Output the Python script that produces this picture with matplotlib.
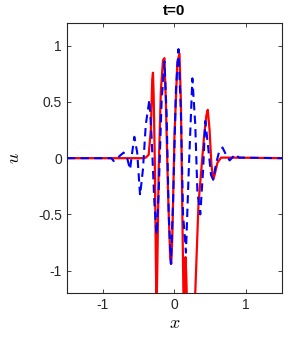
import numpy as np
import matplotlib
matplotlib.use("Agg")
import matplotlib.pyplot as plt

plt.rcParams['font.family'] = ['Liberation Sans', 'DejaVu Sans']
plt.rcParams['mathtext.fontset'] = 'cm'

# red solid curve (x, u)
xr = [-1.5, -0.45, -0.40, -0.36, -0.33, -0.31, -0.30, -0.29, -0.275, -0.26, -0.25, -0.24,
      -0.22, -0.19, -0.16, -0.14, -0.12, -0.09, -0.06, -0.045, -0.03, 0.00, 0.04, 0.07,
      0.09, 0.11, 0.125, 0.135, 0.145, 0.155, 0.165, 0.175, 0.23, 0.29, 0.335, 0.41,
      0.445, 0.465, 0.49, 0.515, 0.54, 0.56, 0.60, 0.65, 0.8, 1.5]
ur = [0, 0, 0.005, 0.03, 0.25, 0.70, 0.76, 0.55, 0.0, -0.9, -1.35, -1.0,
      -0.1, 0.6, 0.87, 0.89, 0.5, -0.3, -0.88, -0.94, -0.7, 0.2, 0.85, 0.93,
      0.5, -0.5, -1.2, -1.35, -1.0, -0.88, -1.05, -1.3, -1.6, -1.2, -0.41, 0.17,
      0.38, 0.43, 0.25, -0.05, -0.19, -0.15, -0.04, 0.005, 0.005, 0]

# blue dashed curve (x, u)
xb = [-1.5, -0.88, -0.85, -0.80, -0.71, -0.66, -0.62, -0.59, -0.56, -0.52, -0.48, -0.44,
      -0.40, -0.35, -0.32, -0.28, -0.25, -0.22, -0.18, -0.14, -0.11, -0.08, -0.05, -0.02,
      0.02, 0.056, 0.09, 0.12, 0.16, 0.20, 0.25, 0.29, 0.32, 0.36, 0.40, 0.43, 0.47,
      0.51, 0.54, 0.58, 0.62, 0.67, 0.72, 0.77, 0.85, 0.9, 1.5]
ub = [0, 0, -0.025, 0.0, 0.05, 0.0, -0.1, 0.05, 0.19, 0.05, -0.33, -0.1,
      0.3, 0.52, 0.2, -0.4, -0.68, -0.3, 0.5, 0.86, 0.4, -0.5, -0.94, -0.4,
      0.6, 0.97, 0.4, -0.5, -0.84, -0.1, 0.71, 0.3, -0.3, -0.5, -0.1, 0.33, 0.1,
      -0.15, -0.19, -0.05, 0.05, 0.095, 0.03, -0.02, 0.035, 0.005, 0]

fig = plt.figure(figsize=(2.99, 3.42), dpi=100)
ax = fig.add_axes([0.224, 0.143, 0.719, 0.789])

ax.plot(xr, ur, 'r-', lw=1.6)
ax.plot(xb, ub, 'b--', lw=1.5, dashes=(4, 2.5))

ax.set_xlim(-1.5, 1.5)
ax.set_ylim(-1.2, 1.2)
ax.set_xticks([-1, 0, 1])
ax.set_xticklabels(['-1', '0', '1'])
ax.set_yticks([-1, -0.5, 0, 0.5, 1])
ax.set_yticklabels(['-1', '-0.5', '0', '0.5', '1'])
ax.tick_params(direction='in', top=True, right=True, length=3, labelsize=10,
               colors='0.15', width=0.6)
for s in ax.spines.values():
    s.set_color('0.15')
    s.set_linewidth(0.8)

ax.set_title('t=0', fontsize=11, fontweight='bold', pad=6)
ax.set_xlabel('$x$', fontsize=13, labelpad=2)
ax.set_ylabel('$u$', fontsize=13, labelpad=11, rotation=90)

fig.savefig('out.png', dpi=100)
